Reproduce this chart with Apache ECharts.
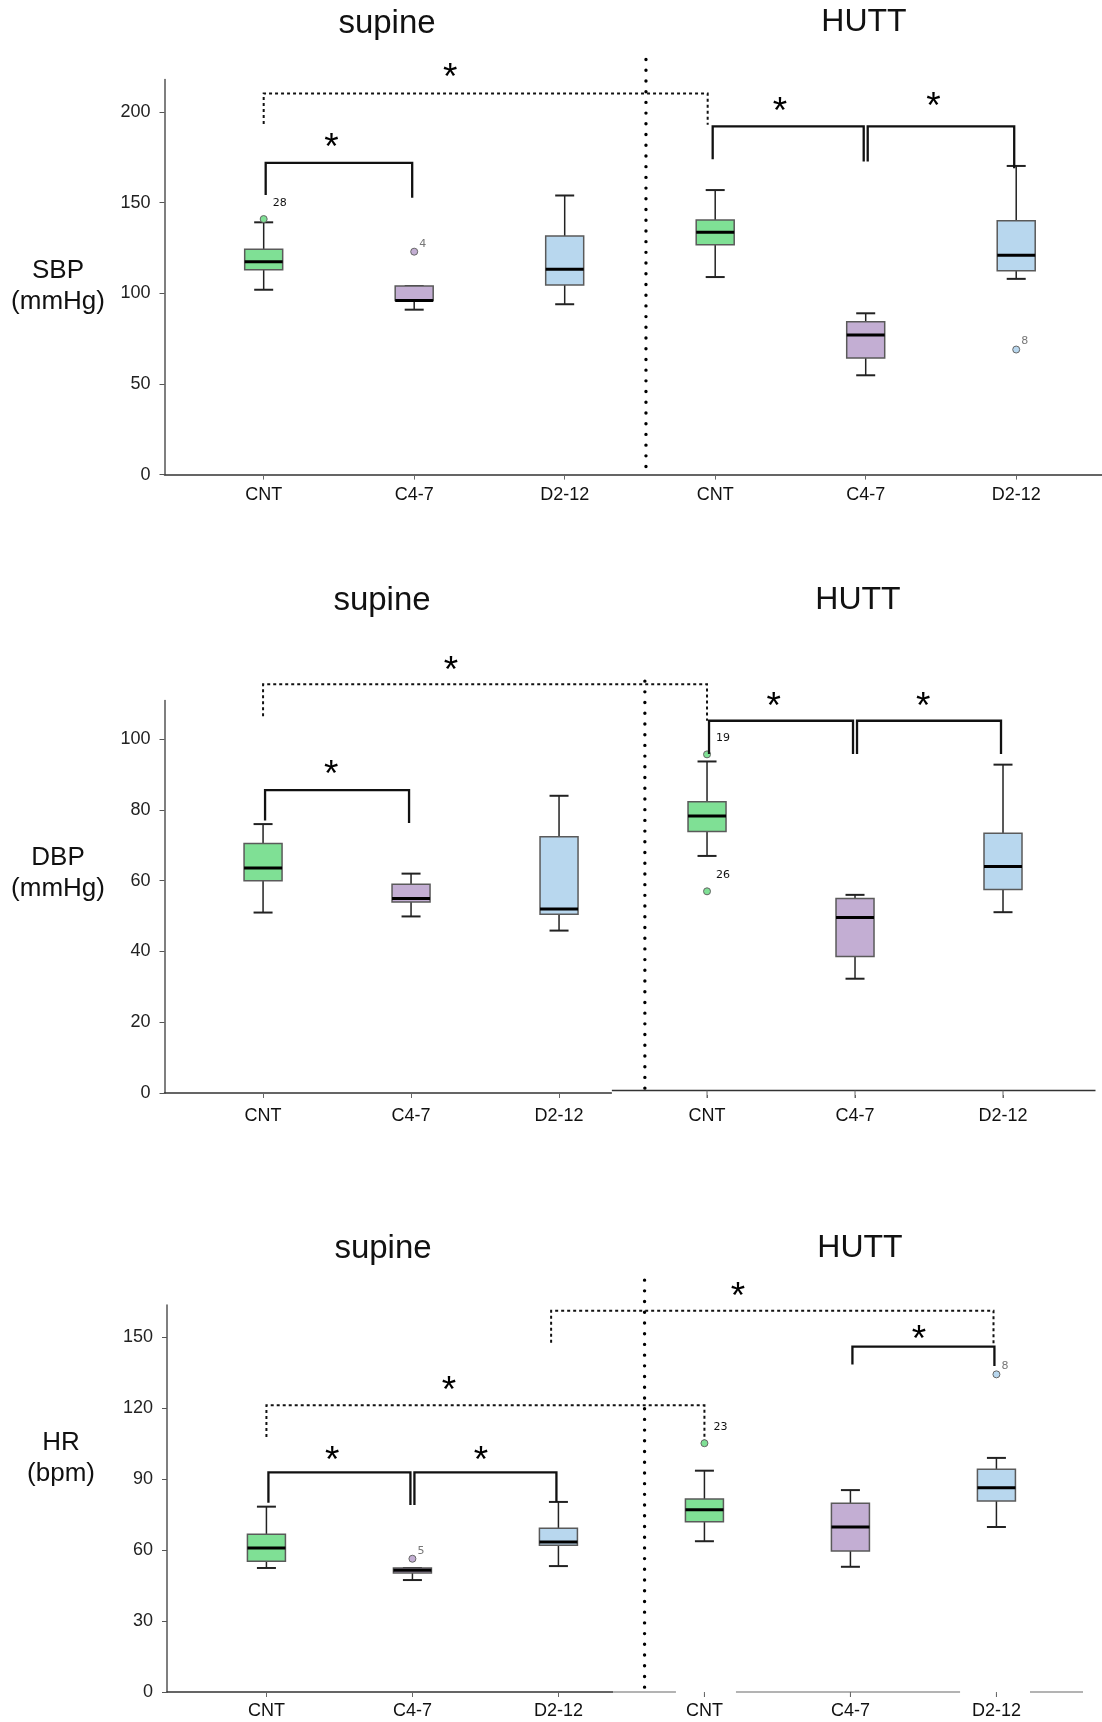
<!DOCTYPE html>
<html>
<head>
<meta charset="utf-8">
<script src="https://cdn.jsdelivr.net/npm/echarts@6/dist/echarts.min.js"></script>
<style>
  html, body { margin: 0; padding: 0; background: #fff; }
  #chart { width: 1102px; height: 1722px; }
</style>
</head>
<body>
<div id="chart"></div>
<script>
// x axis groups (same in every panel): supine CNT, C4-7, D2-12 then HUTT CNT, C4-7, D2-12
var groups = ['CNT', 'C4-7', 'D2-12', 'CNT', 'C4-7', 'D2-12'];

// ---- SBP ----
// boxes: [min, Q1, median, Q3, max]
var sbpBoxes = [
  [102, 113, 117.5, 124.4, 139.2],
  [91, 96, 96, 104, 104],
  [94, 104.6, 113.3, 131.6, 154],
  [109, 126.8, 133.7, 140.5, 157],
  [54.8, 64.3, 77, 84.4, 89],
  [108, 112.5, 121, 140, 170.3]
];
// outliers: [group, value, case number]
var sbpOutliers = [[0, 141, '28'], [1, 123, '4'], [5, 69, '8']];
var sbpTicks = [0, 50, 100, 150, 200];
// significance brackets: [from, to, top, left leg end, right leg end]
var sbpBrackets = [[0, 1, 172, 154.3, 152.8], [2.97, 4, 192.1, 174, 172.7], [4, 5, 192.1, 172.7, 169]];
var sbpDashed = [[0, 2.95, 210.3, 193.4, 193]];
var sbpStars = [[0.45, 184.8], [3.43, 204.8], [4.45, 207.3], [1.24, 223.6]];

// ---- DBP ----
var dbpBoxes = [
  [51, 60, 63.6, 70.5, 76],
  [49.9, 54, 55, 59, 62],
  [45.9, 50.5, 52, 72.4, 84],
  [67, 73.9, 78.3, 82.3, 93.7],
  [32.3, 38.6, 49.6, 55, 56],
  [51.1, 57.5, 64, 73.4, 92.8]
];
var dbpOutliers = [[3, 95.7, '19'], [3, 57, '26']];
var dbpTicks = [0, 20, 40, 60, 80, 100];
var dbpBrackets = [[0, 1, 85.6, 77, 76.3], [3, 4, 105.2, 95.8, 95.8], [4, 5, 105.2, 95.8, 95.8]];
var dbpDashed = [[0, 3, 115.5, 106.5, 105.2]];
var dbpStars = [[0.46, 92.2], [3.45, 111.5], [4.46, 111.5], [1.27, 121.7]];

// ---- HR ----
var hrBoxes = [
  [52.4, 55.2, 60.8, 66.6, 78.3],
  [47.3, 50.3, 51.4, 52.4, 52.4],
  [53.2, 62, 63.4, 69.2, 80.3],
  [63.7, 71.9, 77, 81.5, 93.5],
  [52.9, 59.6, 69.7, 79.7, 85.3],
  [69.7, 80.7, 86.3, 94.1, 98.9]
];
var hrOutliers = [[1, 56.3, '5'], [3, 105.1, '23'], [5, 134.2, '8']];
var hrTicks = [0, 30, 60, 90, 120, 150];
var hrBrackets = [[0, 1, 92.8, 80, 79], [1, 2, 92.8, 79, 80.3], [4, 5, 145.9, 138.4, 137.7]];
var hrDashed = [[0, 3, 121.1, 107.7, 106.5], [1.95, 4.98, 161.1, 147.6, 145.9]];
var hrStars = [[0.45, 101.2], [1.47, 101.2], [1.25, 130.5], [4.47, 152.3], [3.23, 170.4]];

var colors = ['#7fe095', '#c3aed3', '#b8d7ee'];
var FONT = '"Liberation Sans", Arial, Helvetica, sans-serif';

var panels = [
  {
    name: 'SBP\n(mmHg)', nameAt: [58, 286],
    titles: [[387, 24], [864, 22]],
    boxes: sbpBoxes, outliers: sbpOutliers, ticks: sbpTicks, max: 218,
    brackets: sbpBrackets, dashed: sbpDashed, stars: sbpStars,
    grid: { left: 164.5, top: 79.5, width: 937.5, height: 395.1 },
    xMin: -0.659, xMax: 5.57, labelMargin: 11,
    divider: [2.54, 229, -1.2], base: null
  },
  {
    name: 'DBP\n(mmHg)', nameAt: [58, 873],
    titles: [[382, 601], [858, 600]],
    boxes: dbpBoxes, outliers: dbpOutliers, ticks: dbpTicks, max: 110.9,
    brackets: dbpBrackets, dashed: dbpDashed, stars: dbpStars,
    grid: { left: 164.5, top: 700.6, width: 931, height: 392.4 },
    xMin: -0.666, xMax: 5.625, labelMargin: 14,
    divider: [2.58, 116.4, -1.4],
    base: { from: 2.357, dy: -2.5, color: '#333', parts: [[2.357, 5.625]] }
  },
  {
    name: 'HR\n(bpm)', nameAt: [61, 1458],
    titles: [[383, 1249], [860, 1248]],
    boxes: hrBoxes, outliers: hrOutliers, ticks: hrTicks, max: 163.5,
    brackets: hrBrackets, dashed: hrDashed, stars: hrStars,
    grid: { left: 167, top: 1305, width: 916, height: 387 },
    xMin: -0.681, xMax: 5.593, labelMargin: 10,
    divider: [2.59, 174, -1.3],
    base: { from: 2.374, dy: 0, color: '#9a9a9a', parts: [[2.374, 2.805], [3.216, 4.751], [5.23, 5.593]] }
  }
];

function boxRender(boxes) {
  return function (params, api) {
    var b = boxes[params.dataIndex];
    var i = params.dataIndex;
    var x = api.coord([i, 0])[0];
    var y = function (v) { return api.coord([i, v])[1]; };
    var yMin = y(b[0]), yQ1 = y(b[1]), yMed = y(b[2]), yQ3 = y(b[3]), yMax = y(b[4]);
    var hw = 19, cw = 9.5;
    var ln = { stroke: '#222', lineWidth: 1.5 };
    return {
      type: 'group',
      children: [
        { type: 'line', shape: { x1: x, y1: yMax, x2: x, y2: yQ3 }, style: ln },
        { type: 'line', shape: { x1: x, y1: yQ1, x2: x, y2: yMin }, style: ln },
        { type: 'line', shape: { x1: x - cw, y1: yMax, x2: x + cw, y2: yMax }, style: { stroke: '#222', lineWidth: 2 } },
        { type: 'line', shape: { x1: x - cw, y1: yMin, x2: x + cw, y2: yMin }, style: { stroke: '#222', lineWidth: 2 } },
        { type: 'rect', shape: { x: x - hw, y: yQ3, width: hw * 2, height: yQ1 - yQ3 },
          style: { fill: colors[i % 3], stroke: '#5a5a5a', lineWidth: 1.5 } },
        { type: 'line', shape: { x1: x - hw, y1: yMed, x2: x + hw, y2: yMed }, style: { stroke: '#000', lineWidth: 3 } }
      ]
    };
  };
}

function outlierRender(list) {
  return function (params, api) {
    var o = list[params.dataIndex];
    var p = api.coord([o[0], o[1]]);
    var two = o[2].length > 1;
    return {
      type: 'group',
      children: [
        { type: 'circle', shape: { cx: p[0], cy: p[1], r: 3.5 },
          style: { fill: colors[o[0] % 3], stroke: '#666', lineWidth: 1 } },
        { type: 'text', x: p[0] + (two ? 9 : 5), y: p[1] - (two ? 16 : 8),
          style: { text: o[2], fill: two ? '#111' : '#777', font: '11px "DejaVu Sans", sans-serif',
            align: 'left', verticalAlign: 'middle' } }
      ]
    };
  };
}

function bracketRender(list, dashed) {
  return function (params, api) {
    var b = list[params.dataIndex];
    var a = api.coord([b[0], b[2]]), c = api.coord([b[1], b[2]]);
    var l = api.coord([b[0], b[3]]), r = api.coord([b[1], b[4]]);
    var n = dashed ? 0 : 2;
    var x1 = a[0] + n, x2 = c[0] - n;
    return {
      type: 'polyline',
      shape: { points: [[x1, l[1]], [x1, a[1]], [x2, a[1]], [x2, r[1]]] },
      style: { fill: null, stroke: '#111', lineWidth: dashed ? 2 : 2.3, lineDash: dashed ? [3, 3] : null }
    };
  };
}

function starRender(list) {
  return function (params, api) {
    var s = list[params.dataIndex];
    var p = api.coord([s[0], s[1]]);
    return {
      type: 'text', x: p[0], y: p[1] + 9,
      style: { text: '*', fill: '#000', font: '37px ' + FONT, align: 'center', verticalAlign: 'middle' }
    };
  };
}

function dividerRender(d) {
  return function (params, api) {
    var t = api.coord([d[0], d[1]]), b = api.coord([d[0], d[2]]);
    return {
      type: 'line', shape: { x1: t[0], y1: t[1], x2: b[0], y2: b[1] },
      style: { stroke: '#000', lineWidth: 3.4, lineCap: 'round', lineDash: [0.01, 10.7] }
    };
  };
}

function baseRender(base, xMax) {
  return function (params, api) {
    var s = api.coord([base.from, 0]), e = api.coord([xMax, 0]);
    var kids = [{ type: 'line', shape: { x1: s[0], y1: s[1], x2: e[0] + 2, y2: e[1] },
      style: { stroke: '#fff', lineWidth: 4 } }];
    base.parts.forEach(function (pt) {
      var a = api.coord([pt[0], 0]), c = api.coord([pt[1], 0]);
      kids.push({ type: 'line', shape: { x1: a[0], y1: a[1] + base.dy, x2: c[0], y2: c[1] + base.dy },
        style: { stroke: base.color, lineWidth: 1.5 } });
    });
    // tick marks for the HUTT groups
    [3, 4, 5].forEach(function (k) {
      var p = api.coord([k, 0]);
      kids.push({ type: 'line', shape: { x1: p[0], y1: p[1] + base.dy, x2: p[0], y2: p[1] + 5 },
        style: { stroke: '#666', lineWidth: 1 } });
    });
    return { type: 'group', children: kids };
  };
}

var chart = echarts.init(document.getElementById('chart'), null, { renderer: 'canvas' });

var grids = [], xAxes = [], yAxes = [], series = [], graphics = [];
var groupPos = groups.map(function (g, i) { return i; });

panels.forEach(function (p, gi) {
  grids.push(p.grid);
  xAxes.push({
    gridIndex: gi, type: 'value', min: p.xMin, max: p.xMax,
    axisLine: { show: true, onZero: false, lineStyle: { color: '#333', width: 1.5 } },
    axisTick: { show: true, length: 5, customValues: groupPos, lineStyle: { color: '#666' } },
    axisLabel: { customValues: groupPos, margin: p.labelMargin, fontSize: 18, color: '#111', fontFamily: FONT,
      formatter: function (v) { return groups[Math.round(v)]; } },
    splitLine: { show: false }
  });
  yAxes.push({
    gridIndex: gi, type: 'value', min: 0, max: p.max,
    axisLine: { show: true, onZero: false, lineStyle: { color: '#555', width: 1.5 } },
    axisTick: { show: true, length: 5, customValues: p.ticks, lineStyle: { color: '#555' } },
    axisLabel: { customValues: p.ticks, margin: 14, fontSize: 18, color: '#222', fontFamily: FONT },
    splitLine: { show: false }
  });
  var common = { type: 'custom', xAxisIndex: gi, yAxisIndex: gi, clip: false, silent: true };
  if (p.base) {
    series.push(Object.assign({}, common, { z: 1, data: [[p.base.from, 0]], renderItem: baseRender(p.base, p.xMax) }));
  }
  series.push(Object.assign({}, common, { z: 2, data: [[p.divider[0], p.divider[1]]], renderItem: dividerRender(p.divider) }));
  series.push(Object.assign({}, common, { z: 3,
    data: p.boxes.map(function (b, i) { return [i, b[2]]; }), renderItem: boxRender(p.boxes) }));
  series.push(Object.assign({}, common, { z: 4,
    data: p.outliers.map(function (o) { return [o[0], o[1]]; }), renderItem: outlierRender(p.outliers) }));
  series.push(Object.assign({}, common, { z: 4,
    data: p.brackets.map(function (b) { return [b[0], b[2]]; }), renderItem: bracketRender(p.brackets, false) }));
  series.push(Object.assign({}, common, { z: 4,
    data: p.dashed.map(function (b) { return [b[0], b[2]]; }), renderItem: bracketRender(p.dashed, true) }));
  series.push(Object.assign({}, common, { z: 4,
    data: p.stars.map(function (s) { return [s[0], s[1]]; }), renderItem: starRender(p.stars) }));

  graphics.push({ type: 'text', x: p.titles[0][0], y: p.titles[0][1],
    style: { text: 'supine', font: '33px ' + FONT, fill: '#111', align: 'center', verticalAlign: 'middle' } });
  graphics.push({ type: 'text', x: p.titles[1][0], y: p.titles[1][1],
    style: { text: 'HUTT', font: '32px ' + FONT, fill: '#111', align: 'center', verticalAlign: 'middle' } });
  graphics.push({ type: 'text', x: p.nameAt[0], y: p.nameAt[1],
    style: { text: p.name, font: '26px ' + FONT, lineHeight: 31, fill: '#111', align: 'center', verticalAlign: 'middle' } });
});

chart.setOption({
  backgroundColor: '#fff',
  animation: false,
  grid: grids,
  xAxis: xAxes,
  yAxis: yAxes,
  series: series,
  graphic: graphics
});
</script>
</body>
</html>
